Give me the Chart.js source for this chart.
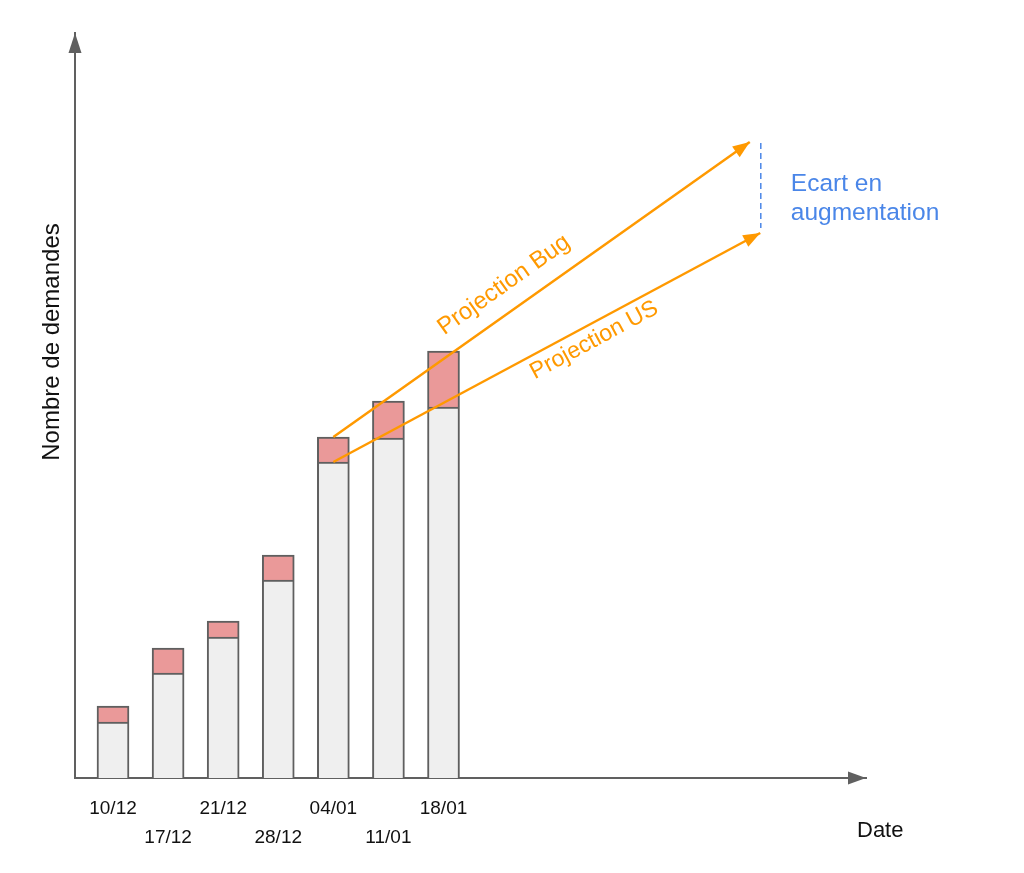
<!DOCTYPE html>
<html>
<head>
<meta charset="utf-8">
<script src="https://cdn.jsdelivr.net/npm/chart.js@4/dist/chart.umd.min.js"></script>
<style>
  html, body { margin: 0; padding: 0; background: #fff; }
  #wrap { width: 1024px; height: 873px; }
</style>
</head>
<body>
<div id="wrap"><canvas id="chart"></canvas></div>
<script>
// weeks on the x axis
const dates = ["10/12", "17/12", "21/12", "28/12", "04/01", "11/01", "18/01"];
// stacked values: user stories (grey) + bugs (pink)
const usValues = [5.6, 10.5, 14.1, 19.8, 31.6, 34.0, 37.1];
const bugValues = [1.6, 2.5, 1.6, 2.5, 2.5, 3.7, 5.6];
// projections (start at week 04/01, end far to the right)
const bugProjection = [{ x: 4, y: 34.1 }, { x: 11.56, y: 63.6 }];
const usProjection = [{ x: 4, y: 31.6 }, { x: 11.75, y: 54.5 }];
const gapLine = [{ x: 11.76, y: 63.5 }, { x: 11.76, y: 55.0 }];

const colors = {
  axis: "#606060",
  grey: "#efefef",
  pink: "#ea9999",
  barBorder: "#5f5f5f",
  orange: "#ff9900",
  blue: "#4a86e8",
  text: "#111111",
};
const FONT = "'Liberation Sans', Arial, sans-serif";

// axis arrows, arrowheads on projections and free texts
const decorations = {
  id: "decorations",
  afterDatasetsDraw(chart) {
    const { ctx, chartArea: a, scales: { x, y } } = chart;
    ctx.save();

    const head = (tipX, tipY, fromX, fromY, len, half, color) => {
      const ang = Math.atan2(tipY - fromY, tipX - fromX);
      ctx.fillStyle = color;
      ctx.beginPath();
      ctx.moveTo(tipX, tipY);
      ctx.lineTo(tipX - len * Math.cos(ang) + half * Math.sin(ang), tipY - len * Math.sin(ang) - half * Math.cos(ang));
      ctx.lineTo(tipX - len * Math.cos(ang) - half * Math.sin(ang), tipY - len * Math.sin(ang) + half * Math.cos(ang));
      ctx.closePath();
      ctx.fill();
    };

    // axis arrowheads
    head(a.left, a.top, a.left, a.bottom, 20, 6.5, colors.axis);
    head(a.right, a.bottom, a.left, a.bottom, 18, 6.5, colors.axis);

    // projection arrowheads + labels
    const proj = [
      { data: bugProjection, label: "Projection Bug", t: 0.292, off: 18.7, size: 24 },
      { data: usProjection, label: "Projection US", t: 0.447, off: -22.5, size: 23.2 },
    ];
    ctx.textAlign = "left";
    ctx.textBaseline = "alphabetic";
    proj.forEach(p => {
      const x0 = x.getPixelForValue(p.data[0].x), y0 = y.getPixelForValue(p.data[0].y);
      const x1 = x.getPixelForValue(p.data[1].x), y1 = y.getPixelForValue(p.data[1].y);
      head(x1, y1, x0, y0, 17, 6.5, colors.orange);
      const ang = Math.atan2(y1 - y0, x1 - x0);
      const len = Math.hypot(x1 - x0, y1 - y0);
      const ux = Math.cos(ang), uy = Math.sin(ang);
      const px = x0 + ux * len * p.t + uy * p.off;
      const py = y0 + uy * len * p.t - ux * p.off;
      ctx.save();
      ctx.translate(px, py);
      ctx.rotate(ang);
      ctx.font = p.size + "px " + FONT;
      ctx.fillStyle = colors.orange;
      ctx.fillText(p.label, 0, 0);
      ctx.restore();
    });

    // gap label
    const gx = x.getPixelForValue(gapLine[0].x);
    const gTop = y.getPixelForValue(gapLine[0].y);
    ctx.font = "24.5px " + FONT;
    ctx.fillStyle = colors.blue;
    ctx.fillText("Ecart en", gx + 30, gTop + 48);
    ctx.fillText("augmentation", gx + 30, gTop + 77);

    // axis titles
    ctx.fillStyle = colors.text;
    ctx.font = "22px " + FONT;
    ctx.fillText("Date", a.right - 9, a.bottom + 59);

    ctx.save();
    ctx.font = "24px " + FONT;
    ctx.translate(a.left - 16, a.top + 309);
    ctx.rotate(-Math.PI / 2);
    ctx.textAlign = "center";
    ctx.fillText("Nombre de demandes", 0, 0);
    ctx.restore();

    ctx.restore();
  },
};

const barData = values => values.map((v, i) => ({ x: i, y: v }));

new Chart(document.getElementById("chart"), {
  type: "bar",
  data: {
    datasets: [
      {
        label: "US",
        data: barData(usValues),
        backgroundColor: colors.grey,
        borderColor: colors.barBorder,
        borderWidth: 2,
        borderSkipped: "start",
        barThickness: 32,
        order: 2,
      },
      {
        label: "Bug",
        data: barData(bugValues),
        backgroundColor: colors.pink,
        borderColor: colors.barBorder,
        borderWidth: 2,
        borderSkipped: "start",
        barThickness: 32,
        order: 2,
      },
      {
        type: "line",
        label: "Projection Bug",
        data: bugProjection,
        stack: "bug",
        borderColor: colors.orange,
        borderWidth: 2.5,
        pointRadius: 0,
        fill: false,
        order: 1,
      },
      {
        type: "line",
        label: "Projection US",
        data: usProjection,
        stack: "us",
        borderColor: colors.orange,
        borderWidth: 2.5,
        pointRadius: 0,
        fill: false,
        order: 1,
      },
      {
        type: "line",
        label: "Ecart",
        data: gapLine,
        stack: "gap",
        borderColor: colors.blue,
        borderWidth: 1.5,
        borderDash: [6, 4],
        pointRadius: 0,
        fill: false,
        order: 1,
      },
    ],
  },
  options: {
    responsive: true,
    maintainAspectRatio: false,
    animation: false,
    layout: { padding: { left: 75, right: 158, top: 33, bottom: 0 } },
    plugins: { legend: { display: false }, tooltip: { enabled: false } },
    scales: {
      x: {
        type: "linear",
        stacked: true,
        offset: false,
        min: -0.69,
        max: 13.67,
        grid: { display: false, drawTicks: false },
        border: { display: true, color: colors.axis, width: 2 },
        afterBuildTicks: scale => { scale.ticks = dates.map((_, i) => ({ value: i })); },
        afterFit: scale => { scale.height = 95; },
        ticks: {
          autoSkip: false,
          maxRotation: 0,
          padding: 16,
          color: colors.text,
          font: { family: FONT, size: 19, lineHeight: 29 / 19 },
          callback: (v) => {
            const i = Math.round(v);
            return i % 2 ? ["", dates[i]] : dates[i];
          },
        },
      },
      y: {
        stacked: true,
        min: 0,
        max: 74.5,
        grid: { display: false, drawTicks: false },
        border: { display: true, color: colors.axis, width: 2 },
        ticks: { display: false },
        afterFit: scale => { scale.width = 0; },
      },
    },
  },
  plugins: [decorations],
});
</script>
</body>
</html>
